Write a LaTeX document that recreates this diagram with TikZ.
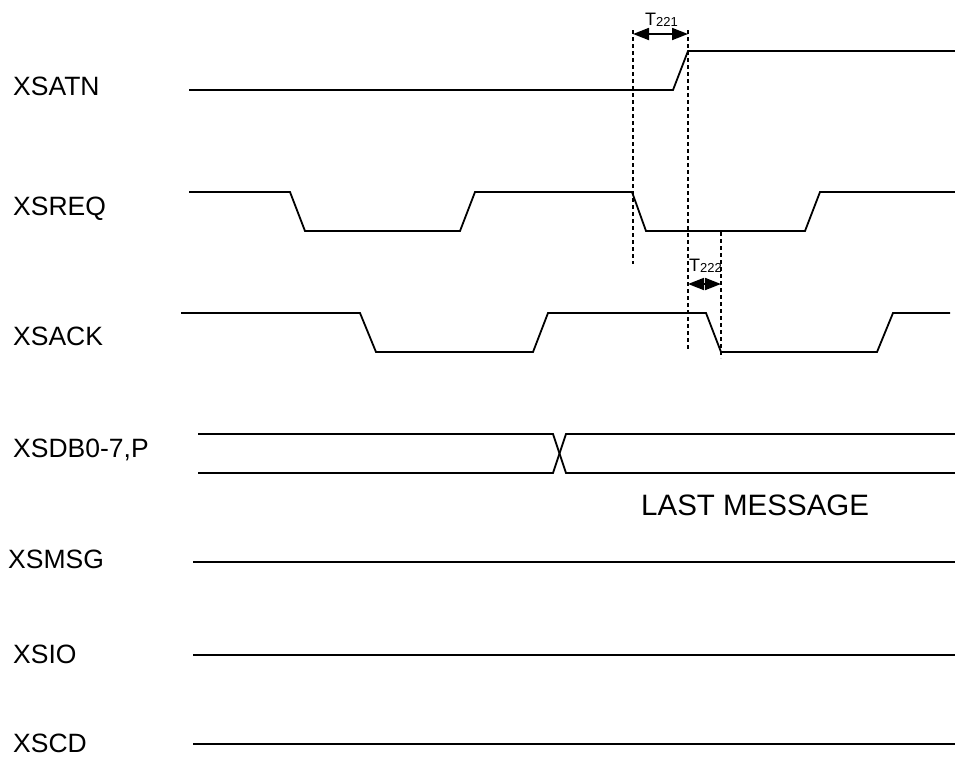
\documentclass[tikz,border=0pt]{standalone}
\usepackage{fontspec}
\setmainfont{Liberation Sans}
\usetikzlibrary{arrows.meta}
\begin{document}
\begin{tikzpicture}[x=1pt,y=-1pt,
  wave/.style={line width=1.8pt, line join=miter},
  guide/.style={line width=1.2pt, dash pattern=on 4pt off 3pt},
  sig/.style={anchor=base west, inner sep=0pt, font=\fontsize{26.5}{26.5}\selectfont},
  tlab/.style={anchor=base west, inner sep=0pt},
  dim/.style={line width=1.8pt, {Triangle[length=16pt,width=12pt]}-{Triangle[length=16pt,width=12pt]}}]
\useasboundingbox (0,0) rectangle (955,756);
% labels
\node[sig] (latn) at (13,95) {XSATN};
\node[sig] (lreq) at (13,215) {XSREQ};
\node[sig] (lack) at (13,345) {XSACK};
\node[sig] (ldb) at (13,457) {XSDB0-7,P};
\node[sig] (lmsg) at (8,568) {XSMSG};
\node[sig] (lio) at (13,663) {XSIO};
\node[sig] (lcd) at (13,752) {XSCD};
\node[sig, font=\fontsize{29.5}{29.5}\selectfont] (last) at (641,515) {LAST MESSAGE};
% waveforms
\draw[wave] (189,90) -- (673,90) -- (688,51) -- (955,51);
\draw[wave] (189,192) -- (290,192) -- (305,231) -- (460,231) -- (475,192) -- (632,192) -- (646,231) -- (805,231) -- (820,192) -- (955,192);
\draw[wave] (181,313) -- (360,313) -- (376,352) -- (533,352) -- (548,313) -- (706,313) -- (721,352) -- (877,352) -- (893,313) -- (950,313);
\draw[wave] (198,434) -- (553,434) -- (566,473) -- (955,473);
\draw[wave] (198,473) -- (553,473) -- (566,434) -- (955,434);
\draw[wave] (193,562) -- (955,562);
\draw[wave] (193,655) -- (955,655);
\draw[wave] (193,744) -- (955,744);
% guides
\coordinate (g1t) at (633,30); \coordinate (g1b) at (633,264);
\coordinate (g2t) at (688,30); \coordinate (g2b) at (688,350);
\coordinate (g3t) at (721,232); \coordinate (g3b) at (721,358);
\draw[guide] (g1t) -- (g1b);
\draw[guide] (g2t) -- (g2b);
\draw[guide] (g3t) -- (g3b);
% timing arrows
\coordinate (a1l) at (633,34); \coordinate (a1r) at (688,34);
\coordinate (a2l) at (688,284); \coordinate (a2r) at (721,284);
\draw[dim] (a1l) -- (a1r);
\draw[dim] (a2l) -- (a2r);
\node[tlab] (t221) at (645,25) {\fontsize{18}{18}\selectfont T\fontsize{13}{13}\selectfont\raisebox{-1pt}{221}};
\node[tlab] (t222) at (689,271) {\fontsize{18}{18}\selectfont T\fontsize{13}{13}\selectfont\raisebox{-1pt}{222}};
\end{tikzpicture}
\end{document}
